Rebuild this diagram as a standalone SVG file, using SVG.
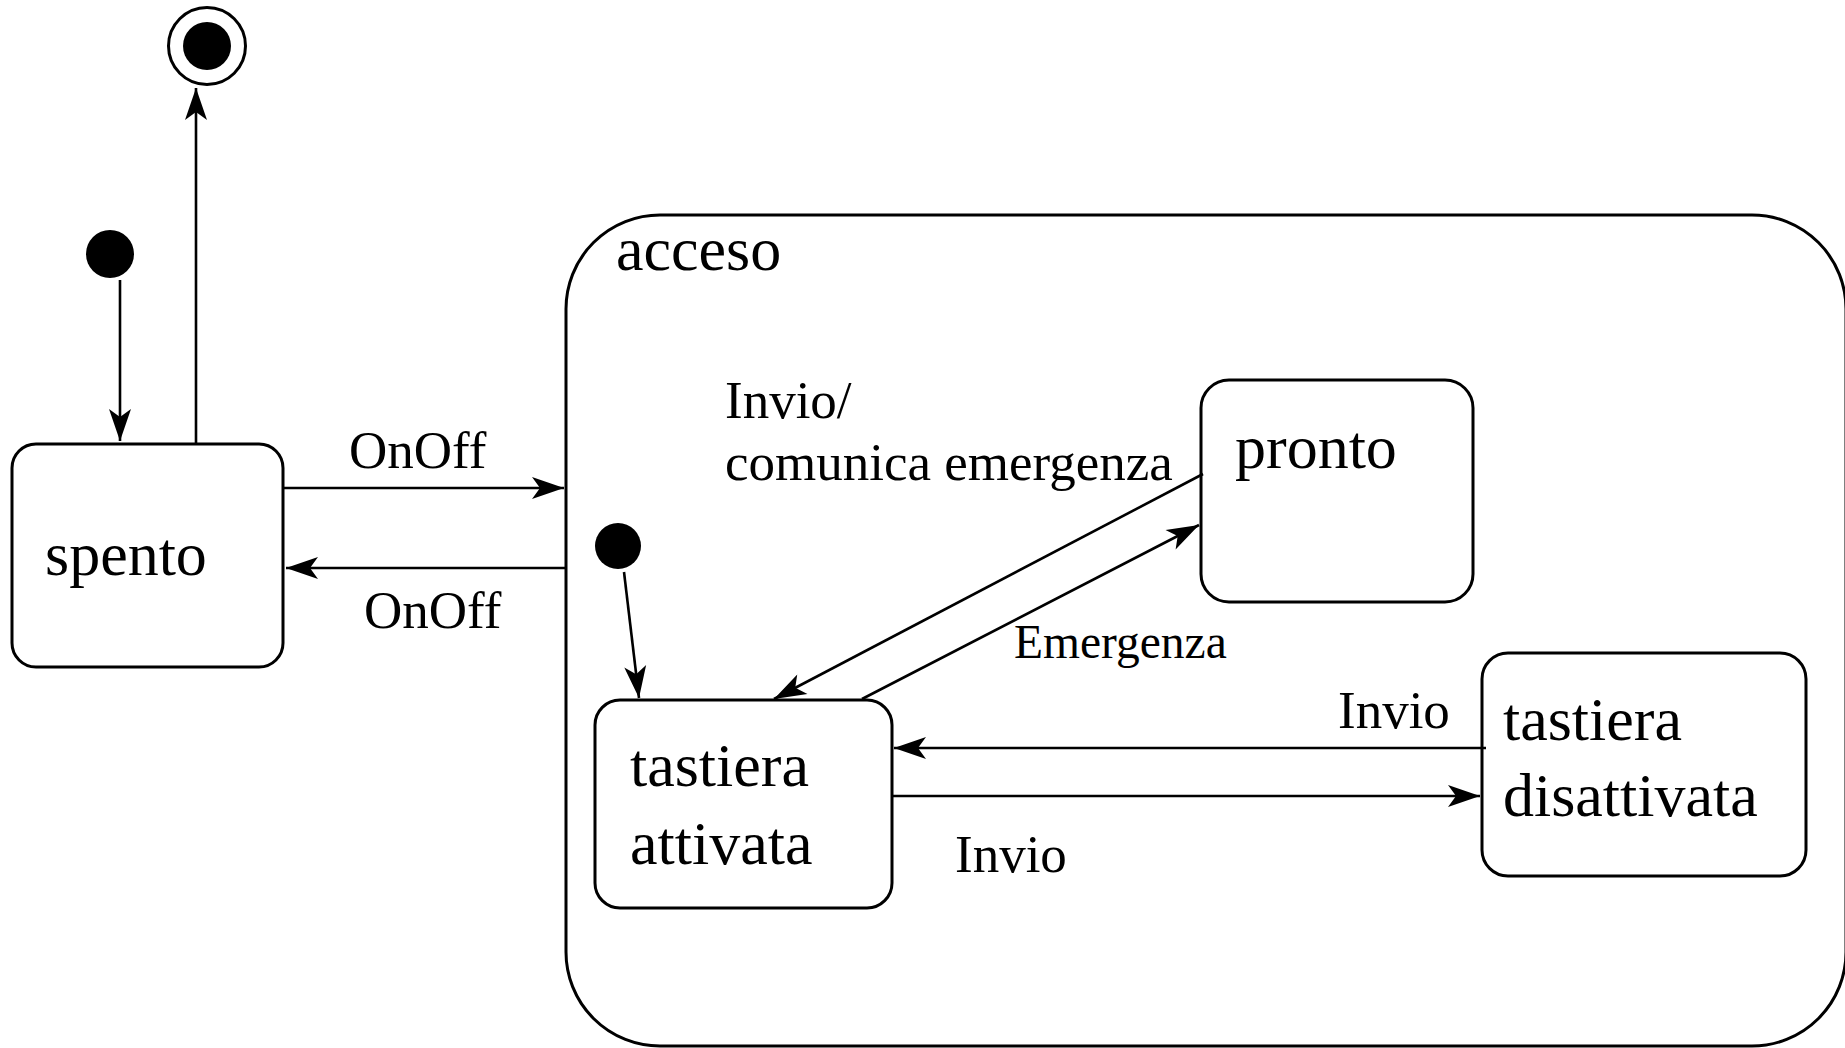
<svg xmlns="http://www.w3.org/2000/svg" width="1845" height="1048" viewBox="0 0 1845 1048">
<style>
.box{fill:#fff;stroke:#000;stroke-width:3}
.conn{fill:none;stroke:#000;stroke-width:2.6;marker-end:url(#ah)}
.t{font-family:"Liberation Serif","Times New Roman",serif;fill:#000}
.big{font-size:62px}
.lbl{font-size:53px}
.sm{font-size:47.5px}
</style>
<defs>
<marker id="ah" markerUnits="userSpaceOnUse" markerWidth="36" markerHeight="26" viewBox="-34 -13 36 26" refX="0" refY="0" orient="auto">
<path d="M0,0 L-32,-11 L-24,0 L-32,11 Z" fill="#000"/>
</marker>
</defs>
<rect width="1845" height="1048" fill="#fff"/>
<g id="acceso">
<rect class="box" x="566" y="215" width="1280" height="831" rx="94" ry="94"/>
<text class="t big" x="616" y="270">acceso</text>
</g>
<g id="final">
<circle cx="207" cy="46" r="38.5" fill="#fff" stroke="#000" stroke-width="3"/>
<circle cx="207" cy="46" r="24" fill="#000"/>
</g>
<g id="init1">
<circle cx="110" cy="254" r="24" fill="#000"/>
</g>
<g id="spento">
<rect class="box" x="12" y="444" width="271" height="223" rx="24" ry="24"/>
<text class="t big" x="45" y="575">spento</text>
</g>
<g id="init2">
<circle cx="618" cy="546" r="23" fill="#000"/>
</g>
<g id="pronto">
<rect class="box" x="1201" y="380" width="272" height="222" rx="28" ry="28"/>
<text class="t big" x="1235" y="468">pronto</text>
</g>
<g id="tastiera-attivata">
<rect class="box" x="595" y="700" width="297" height="208" rx="25" ry="25"/>
<text class="t big" x="630" y="786">tastiera</text>
<text class="t big" x="630" y="864">attivata</text>
</g>
<g id="tastiera-disattivata">
<rect class="box" x="1482" y="653" width="324" height="223" rx="26" ry="26"/>
<text class="t big" x="1503" y="740">tastiera</text>
<text class="t big" x="1503" y="816">disattivata</text>
</g>
<g id="connectors">
<line class="conn" x1="120" y1="280" x2="120" y2="441"/>
<line class="conn" x1="196" y1="444" x2="196" y2="88"/>
<line class="conn" x1="284" y1="488" x2="564" y2="488"/>
<line class="conn" x1="565" y1="568" x2="286" y2="568"/>
<line class="conn" x1="624" y1="572" x2="639" y2="698"/>
<line class="conn" x1="1203" y1="474" x2="774" y2="699"/>
<line class="conn" x1="862" y1="699" x2="1199" y2="525"/>
<line class="conn" x1="1486" y1="748" x2="894" y2="748"/>
<line class="conn" x1="892" y1="796" x2="1480" y2="796"/>
</g>
<g id="labels">
<text class="t lbl" x="349" y="468">OnOff</text>
<text class="t lbl" x="364" y="628">OnOff</text>
<text class="t lbl" x="725" y="418">Invio/</text>
<text class="t lbl" x="725" y="480">comunica emergenza</text>
<text class="t sm" x="1014" y="658">Emergenza</text>
<text class="t lbl" x="1338" y="728">Invio</text>
<text class="t lbl" x="955" y="872">Invio</text>
</g>
</svg>
